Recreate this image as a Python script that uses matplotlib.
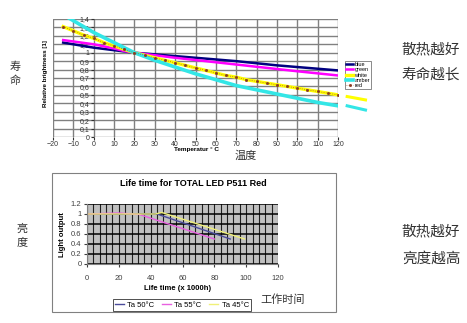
import matplotlib
matplotlib.use("Agg")
import matplotlib.pyplot as plt
import numpy as np
from matplotlib.patches import Rectangle

plt.rcParams['font.family'] = ['Liberation Sans', 'DejaVu Sans']
CJK = ['Noto Sans CJK SC', 'DejaVu Sans']

# ── top chart: relative brightness vs temperature ────────────────────────────
temp_wr = [-15, -10, -5, 0, 5, 10, 15, 20, 25, 30, 35, 40, 45, 50, 55, 60,
           65, 70, 75, 80, 85, 90, 95, 100, 105, 110, 115, 120]
white   = [1.31, 1.26, 1.21, 1.17, 1.12, 1.08, 1.04, 1.00, 0.97, 0.94, 0.91,
           0.88, 0.85, 0.82, 0.79, 0.76, 0.73, 0.71, 0.68, 0.66, 0.64, 0.62,
           0.60, 0.58, 0.56, 0.54, 0.52, 0.50]
red     = white

temp_amber = [-15, -10, -5, 0, 5, 10, 15, 20, 30, 40, 50, 60, 70, 80, 90, 100, 110, 120]
amber      = [1.45, 1.38, 1.31, 1.24, 1.18, 1.12, 1.06, 1.00, 0.91, 0.83, 0.75,
              0.68, 0.61, 0.56, 0.51, 0.46, 0.41, 0.37]

temp_blue = [-15, 0, 20, 50, 70, 90, 120]
blue      = [1.12, 1.06, 1.00, 0.94, 0.90, 0.85, 0.79]

temp_green = [-15, 0, 10, 15, 20, 40, 70, 100, 120]
green      = [1.15, 1.10, 1.05, 1.02, 1.00, 0.94, 0.86, 0.78, 0.73]

# stray line pieces drawn outside the plot area in the original
stub_x     = [124.5, 133.5]
stub_white = [0.48, 0.44]
stub_amber = [0.37, 0.32]

# ── bottom chart: light output vs life time ──────────────────────────────────
life_50 = [0, 44, 90]
out_50  = [1.0, 1.0, 0.50]
life_55 = [0, 20, 33, 80]
out_55  = [1.0, 1.02, 0.99, 0.50]
life_45 = [0, 43, 47, 99]
out_45  = [1.0, 1.0, 1.03, 0.50]

W, H = 467, 323
fig = plt.figure(figsize=(W / 100, H / 100), dpi=100)

def fx(px):
    return px / W

def fy(py):
    return 1 - py / H

# top axes
ax1 = fig.add_axes([fx(53), fy(137), (338 - 53) / W, (137 - 19) / H])
ax1.set_xlim(-20, 120)
ax1.set_ylim(0, 1.4)
ax1.set_xticks(range(-20, 121, 10))
yt = np.round(np.arange(0, 1.41, 0.1), 1)
ax1.set_yticks(yt)
ax1.set_yticklabels([f"{v:g}".replace('.', ',') for v in yt])
ax1.grid(True, color='#808080', lw=1.0)
ax1.set_axisbelow(True)
for s in ax1.spines.values():
    s.set_visible(False)
ax1.spines['left'].set_position(('data', 0))
ax1.tick_params(axis='both', labelsize=5, colors='#333333', length=2, pad=1)

ax1.plot(temp_blue, blue, color='#000080', lw=1.8, label='blue')
ax1.plot(temp_green, green, color='#ff00ff', lw=1.8, label='green')
ax1.plot(temp_wr, white, color='#ffff00', lw=2.4, label='white')
ax1.plot(temp_amber, amber, color='#33e6e6', lw=2.6, label='amber')
ax1.plot(temp_wr, red, color='#b06030', lw=0.6, ls=':', marker='s', ms=1.0,
         mec='#8a3a20', mfc='#8a3a20', label='red')
ax1.plot(stub_x, stub_white, color='#ffff00', lw=2.2, clip_on=False)
ax1.plot(stub_x, stub_amber, color='#33e6e6', lw=2.2, clip_on=False)

leg1 = ax1.legend(loc='upper left', bbox_to_anchor=(fx(345), fy(61)),
                  bbox_transform=fig.transFigure, fontsize=4, frameon=True,
                  fancybox=False, edgecolor='#555555', handlelength=1.3,
                  handletextpad=0.2, labelspacing=0.05, borderpad=0.2,
                  borderaxespad=0)
leg1.get_frame().set_linewidth(0.6)

fig.text(fx(45), fy(74), 'Relative brightness [1]', rotation=90, ha='center',
         va='center', fontsize=4.5, fontweight='bold')
fig.text(fx(197), fy(150), 'Temperatur ° C', ha='center', va='center',
         fontsize=4.6, fontweight='bold')

# bottom frame + axes
fig.add_artist(Rectangle((fx(52), fy(312)), 284 / W, 139 / H,
                         transform=fig.transFigure, fill=False,
                         edgecolor='#808080', lw=0.8))

ax2 = fig.add_axes([fx(87), fy(264), (278 - 87) / W, 60 / H])
ax2.set_facecolor('#c0c0c0')
ax2.set_xlim(0, 120)
ax2.set_ylim(0, 1.2)
ax2.set_xticks(range(0, 121, 20))
ax2.set_xticks(range(0, 121, 4), minor=True)
ax2.set_yticks(np.round(np.arange(0, 1.21, 0.2), 1))
ax2.set_yticklabels(['0', '0.2', '0.4', '0.6', '0.8', '1', '1.2'])
ax2.grid(True, which='both', axis='x', color='#202020', lw=0.8)
ax2.grid(True, which='major', axis='y', color='#000000', lw=1.1)
ax2.set_axisbelow(True)
ax2.spines['top'].set_visible(False)
ax2.spines['right'].set_visible(False)
ax2.spines['left'].set_color('#808080')
ax2.spines['bottom'].set_color('#808080')
ax2.tick_params(axis='both', labelsize=5.5, colors='#404040', length=2, pad=6)
ax2.tick_params(axis='x', which='minor', length=0)
ax2.tick_params(axis='y', pad=2)

ax2.plot(life_50, out_50, color='#4b4b9b', lw=1.0, label='Ta 50°C')
ax2.plot(life_55, out_55, color='#e860e0', lw=1.0, label='Ta 55°C')
ax2.plot(life_45, out_45, color='#f0f078', lw=1.0, label='Ta 45°C')

leg2 = ax2.legend(loc='center', ncol=3, bbox_to_anchor=(fx(182), fy(305)),
                  bbox_transform=fig.transFigure, fontsize=5.5, frameon=True,
                  fancybox=False, edgecolor='#000000', handlelength=1.2,
                  handletextpad=0.4, columnspacing=1.0, borderpad=0.3)
leg2.get_frame().set_linewidth(0.6)

fig.text(fx(193), fy(184), 'Life time for TOTAL LED P511 Red', ha='center',
         va='center', fontsize=6.5, fontweight='bold')
fig.text(fx(62), fy(235), 'Light output', rotation=90, ha='center',
         va='center', fontsize=5.5, fontweight='bold')
fig.text(fx(178), fy(289), 'Life time (x 1000h)', ha='center', va='center',
         fontsize=5.5, fontweight='bold')

# Chinese annotations
cn = dict(family=CJK, color='#333333', ha='center', va='center')
fig.text(fx(15), fy(67), '寿', fontsize=8, **cn)
fig.text(fx(15), fy(81), '命', fontsize=8, **cn)
fig.text(fx(246), fy(156), '温度', fontsize=8, **cn)
fig.text(fx(431), fy(49), '散热越好', fontsize=10.5, **cn)
fig.text(fx(431), fy(74), '寿命越长', fontsize=10.5, **cn)
fig.text(fx(22), fy(229), '亮', fontsize=8, **cn)
fig.text(fx(22), fy(243), '度', fontsize=8, **cn)
fig.text(fx(431), fy(231), '散热越好', fontsize=10.5, **cn)
fig.text(fx(431), fy(259), '亮度越高', fontsize=10.5, **cn)
fig.text(fx(283), fy(300), '工作时间', fontsize=8, **cn)

fig.savefig('out.png', dpi=100)
